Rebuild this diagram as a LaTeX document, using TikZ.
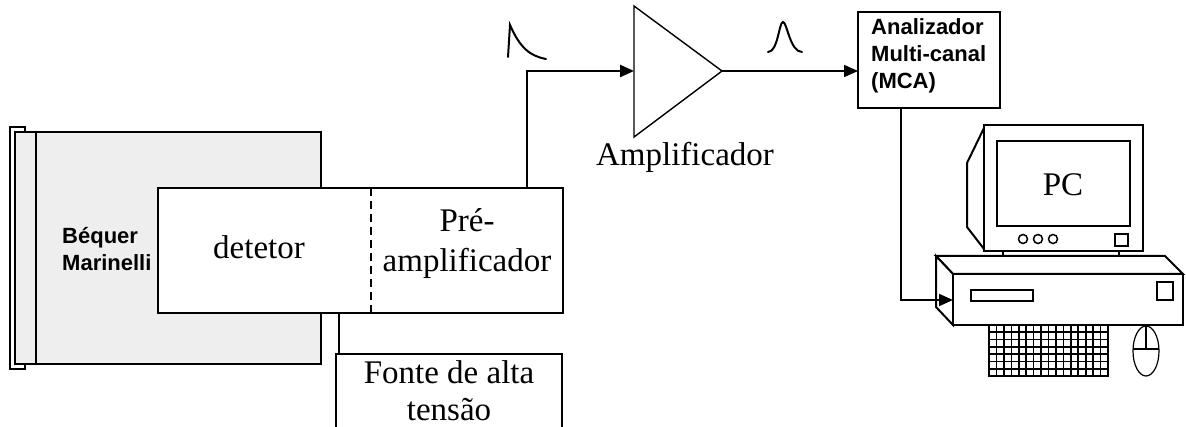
\documentclass[tikz,border=0pt]{standalone}
\usepackage{fontspec}
\setmainfont{Liberation Serif}
\newfontfamily\labsans{Liberation Sans}
\usetikzlibrary{arrows.meta,calc}

\begin{document}
\begin{tikzpicture}[x=1pt,y=-1pt,
  box/.style={draw, line width=2.4pt, fill=white, inner sep=0pt, outer sep=0pt},
  wire/.style={line width=2.4pt},
  arr/.style={-{Triangle[length=14pt,width=12pt]}},
  pcl/.style={line width=2pt, fill=white},
  pulse/.style={line width=2pt, line cap=round},
  serif/.style={font=\fontsize{33}{40}\selectfont, inner sep=0pt},
  sanslab/.style={font=\labsans\bfseries\fontsize{22}{27}\selectfont, inner sep=0pt}]
\clip (0,0) rectangle (1186,427);
\fill[white] (0,0) rectangle (1186,427);

% Marinelli beaker around the detector
\draw[line width=2pt, fill=white] (10,127) rectangle (25,369);
\draw[line width=2.4pt, fill=gray!13] (15,132) rectangle (321,364);
\draw[line width=1.5pt] (36,132) -- (36,364);
\node[sanslab, align=left, anchor=west] (beq) at (62,249) {Béquer\\Marinelli};

% detector + preamplifier block
\node[box, minimum width=405pt, minimum height=125pt, anchor=north west] (det) at (158,188) {};
\coordinate (dashtop) at (371,188);
\coordinate (dashbot) at (371,313);
\draw[line width=2pt, dash pattern=on 8pt off 5pt] (dashtop) -- (dashbot);
\node[serif] (dettxt) at (259,247) {detetor};
\node[serif, align=center] (pretxt) at (467,244) {Pré-\\amplificador};

% high-voltage supply
\node[box, minimum width=226pt, minimum height=110pt, anchor=north west] (fonte) at (336,354) {};
\node[serif, align=center, font=\fontsize{33}{37}\selectfont] (fontetxt) at (449,391) {Fonte de alta\\tensão};
\coordinate (hvtop) at (339,313);
\coordinate (hvbot) at (339,354);
\draw[wire] (hvtop) -- (hvbot);

% preamplifier output pulse
\draw[pulse] (508,57) -- (510,25) .. controls (520,48) and (530,56) .. (546,59);

% amplifier
\coordinate (amptop) at (634,6);
\coordinate (ampbot) at (634,137);
\coordinate (ampin) at (634,71);
\coordinate (ampout) at (722,71);
\draw[line width=1.4pt, fill=white] (amptop) -- (ampout) -- (ampbot) -- cycle;
\node[serif] (amptxt) at (685,157) {Amplificador};
\coordinate (pout) at (527,188);
\draw[wire, arr] (pout) |- (ampin);

% shaped pulse
\draw[pulse] (768,52) .. controls (778,52) and (779,22) .. (783,22)
  .. controls (787,22) and (790,52) .. (802,52);

% multichannel analyser
\node[box, minimum width=142pt, minimum height=96pt, anchor=north west] (mca) at (858,12) {};
\node[sanslab, align=left, anchor=west] (mcatxt) at (871,56) {Analizador\\Multi-canal\\(MCA)};
\draw[line width=1.6pt, arr] (ampout) -- (ampout -| mca.west);

% computer: monitor
\draw[pcl] (984,128) -- (967,163) -- (967,227) -- (984,249);
\draw[pcl] (984,125) rectangle (1143,251);
\draw[line width=2pt] (997,141) rectangle (1130,226);
\node[serif] (pctxt) at (1063,185) {PC};
\foreach \cx in {1023,1038,1053}
  \draw[line width=1.5pt] (\cx,239) circle (4.5);
\draw[line width=1.8pt] (1115,234) rectangle (1128,246);
\draw[pcl] (1003,251) rectangle (1119,261);

% computer: case
\draw[pcl] (936,256) -- (1165,256) -- (1183,274) -- (953,274) -- cycle;
\draw[pcl] (936,256) -- (936,307) -- (953,325) -- (953,274) -- cycle;
\draw[pcl] (953,274) rectangle (1183,325);
\draw[line width=2pt] (971,290) rectangle (1033,301);
\draw[line width=2pt] (1157,282) rectangle (1173,300);

% keyboard
\draw[line width=1.8pt] (989,325) rectangle (1108,376);
\foreach \i in {1,...,15}
  \draw[line width=1.6pt] ({989+\i*119/16},325) -- ({989+\i*119/16},376);
\foreach \j in {1,...,6}
  \draw[line width=1.6pt] (989,{325+\j*51/7}) -- (1108,{325+\j*51/7});

% mouse
\draw[line width=1.2pt] (1146,351) ellipse [x radius=13, y radius=25];
\draw[line width=1.2pt] (1146,326) -- (1146,349);
\draw[line width=1.2pt] (1133,349) -- (1159,349);

% MCA to computer
\coordinate (mcaout) at (901,108);
\coordinate (pcin) at (953,300);
\draw[line width=2pt, arr] (mcaout) |- (pcin);
\end{tikzpicture}
\end{document}
